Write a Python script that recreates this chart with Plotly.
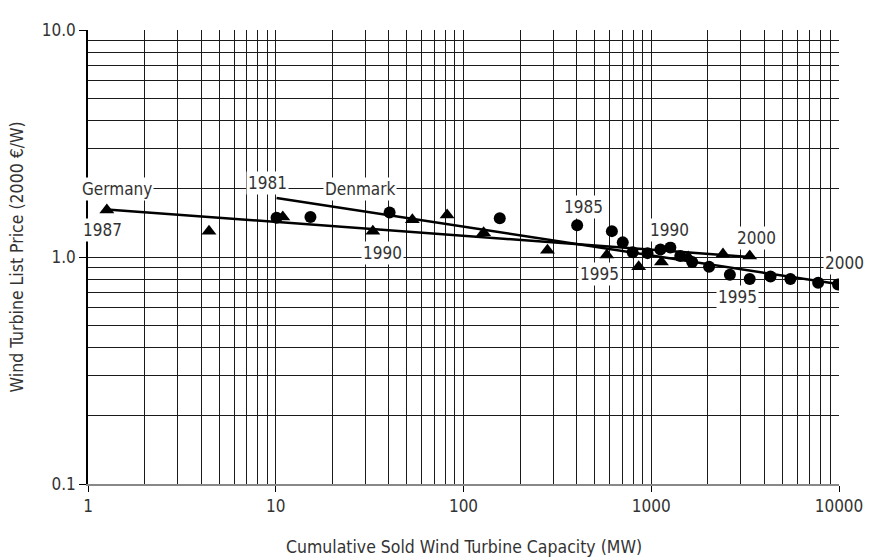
import math
import plotly.graph_objects as go

# Germany (triangles), 1987-2000
germany_years = list(range(1987, 2001))
germany_capacity = [1.26, 4.41, 10.9, 32.9, 53.4, 81.8, 128, 280, 580, 857, 1133, 1574, 2410, 3344]
germany_price = [1.61, 1.30, 1.50, 1.30, 1.46, 1.53, 1.28, 1.07, 1.02, 0.905, 0.95, 1.00, 1.03, 1.01]

# Denmark (circles), 1981-2000
denmark_years = list(range(1981, 2001))
denmark_capacity = [10.1, 15.3, 40.4, 156, 403, 617, 705, 796, 955, 1119,
                    1264, 1428, 1652, 2032, 2623, 3344, 4318, 5509, 7744, 9880]
denmark_price = [1.49, 1.50, 1.57, 1.48, 1.38, 1.30, 1.16, 1.05, 1.04, 1.08,
                 1.10, 1.01, 0.95, 0.905, 0.836, 0.80, 0.82, 0.80, 0.77, 0.757]

# Experience-curve trend lines (end points)
germany_trend_x = [1.26, 3344]
germany_trend_y = [1.62, 1.00]
denmark_trend_x = [10.1, 9880]
denmark_trend_y = [1.82, 0.76]

x_tickvals = [1, 10, 100, 1000, 10000]
x_ticktext = ["1", "10", "100", "1000", "10000"]
y_tickvals = [0.1, 1, 10]
y_ticktext = ["0.1", "1.0", "10.0"]

x_minor = [m * 10 ** d for d in range(0, 4) for m in range(2, 10)]
y_minor = [m * 10 ** d for d in (-1, 0) for m in range(2, 10)]

# Labels: text, capacity, price
label_text = ["Germany", "1987", "1981", "Denmark", "1990", "1985", "1995", "1990", "2000", "1995", "2000"]
label_x = [1.42, 1.19, 9.04, 28.0, 37.1, 433, 533, 1248, 3641, 2891, 9800]
label_y = [1.99, 1.32, 2.11, 1.99, 1.04, 1.66, 0.844, 1.31, 1.21, 0.665, 0.942]
label_xshift = [0, 0, 0, 0, 0, 0, 0, 0, 0, 0, 7]

FONT = "DejaVu Sans Condensed, DejaVu Sans, sans-serif"
TXT = "#333333"

fig = go.Figure()

fig.add_trace(go.Scatter(x=germany_trend_x, y=germany_trend_y, mode="lines",
                         line=dict(color="black", width=2.5), hoverinfo="skip", showlegend=False))
fig.add_trace(go.Scatter(x=denmark_trend_x, y=denmark_trend_y, mode="lines",
                         line=dict(color="black", width=2.5), hoverinfo="skip", showlegend=False))
fig.add_trace(go.Scatter(x=germany_capacity, y=germany_price, mode="markers", name="Germany",
                         text=germany_years,
                         marker=dict(symbol="triangle-up", size=13, color="black"), showlegend=False))
fig.add_trace(go.Scatter(x=denmark_capacity, y=denmark_price, mode="markers", name="Denmark",
                         text=denmark_years,
                         marker=dict(symbol="circle", size=12, color="black"), showlegend=False))

for t, x, y, xs in zip(label_text, label_x, label_y, label_xshift):
    fig.add_annotation(x=math.log10(x), y=math.log10(y), xref="x", yref="y", text=t, showarrow=False,
                       xshift=xs, bgcolor="white", borderpad=1,
                       font=dict(family=FONT, size=17, color=TXT))

fig.add_annotation(x=0.5, y=-0.1385, xref="paper", yref="paper",
                   text="Cumulative Sold Wind Turbine Capacity (MW)", showarrow=False,
                   font=dict(family=FONT, size=17.5, color=TXT), yanchor="middle")
fig.add_annotation(x=-0.094, y=0.5, xref="paper", yref="paper", textangle=-90,
                   text="Wind Turbine List Price (2000 €/W)", showarrow=False,
                   font=dict(family=FONT, size=17.5, color=TXT), xanchor="center", yanchor="middle")

fig.update_xaxes(type="log", range=[0, 4], tickmode="array", tickvals=x_tickvals, ticktext=x_ticktext,
                 showgrid=True, gridcolor="#1a1a1a", gridwidth=1,
                 showline=True, linecolor="#888888", linewidth=2,
                 ticks="outside", ticklen=6, tickcolor="black",
                 tickfont=dict(family=FONT, size=17, color=TXT),
                 minor=dict(tickvals=x_minor, showgrid=True, gridcolor="#1a1a1a", gridwidth=1, ticks=""),
                 zeroline=False)
fig.update_yaxes(type="log", range=[-1, 1], tickmode="array", tickvals=y_tickvals, ticktext=y_ticktext,
                 showgrid=True, gridcolor="#1a1a1a", gridwidth=1,
                 showline=True, linecolor="black", linewidth=1.5,
                 ticks="outside", ticklen=7, tickcolor="black",
                 tickfont=dict(family=FONT, size=17, color=TXT),
                 minor=dict(tickvals=y_minor, showgrid=True, gridcolor="#1a1a1a", gridwidth=1, ticks=""),
                 zeroline=False)

fig.update_layout(width=867, height=551, margin=dict(l=80, r=30, t=14, b=75),
                  plot_bgcolor="white", paper_bgcolor="white", showlegend=False)

fig.write_html("out.html")
